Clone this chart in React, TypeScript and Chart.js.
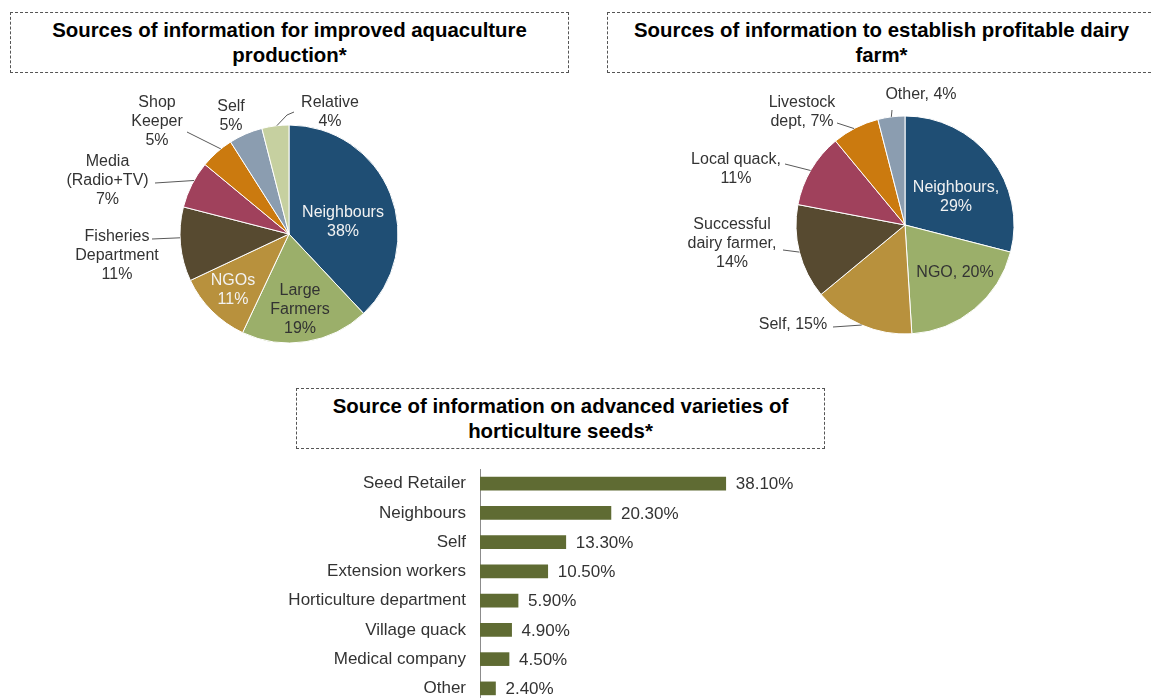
import React, { useEffect, useRef } from "react";
import { Chart, registerables } from "chart.js";

Chart.register(...registerables);

// ---------- DATA ----------
const aquaCategories = [
  "Neighbours",
  "Large\nFarmers",
  "NGOs",
  "Fisheries\nDepartment",
  "Media\n(Radio+TV)",
  "Shop\nKeeper",
  "Self",
  "Relative",
];
const aquaValues = [38, 19, 11, 11, 7, 5, 5, 4];

const dairyCategories = [
  "Neighbours",
  "NGO",
  "Self",
  "Successful\ndairy farmer",
  "Local quack",
  "Livestock\ndept",
  "Other",
];
const dairyValues = [29, 20, 15, 14, 11, 7, 4];

const seedCategories = [
  "Seed Retailer",
  "Neighbours",
  "Self",
  "Extension workers",
  "Horticulture department",
  "Village quack",
  "Medical company",
  "Other",
];
const seedValues = [38.1, 20.3, 13.3, 10.5, 5.9, 4.9, 4.5, 2.4];

// ---------- STYLE ----------
const FONT = '"Liberation Sans", Arial, sans-serif';
const TEXT = "#333333";
const LIGHT = "#f2f2f2";

const aquaColors = ["#1F4E74", "#9BAF6A", "#B8913D", "#574A30", "#A0415C", "#CB7A0F", "#8B9DB0", "#C6D0A0"];
const dairyColors = ["#1F4E74", "#9BAF6A", "#B8913D", "#574A30", "#A0415C", "#CB7A0F", "#8B9DB0"];
const barColor = "#5F6B33";

type LabelLayout = {
  dx: number;
  dy: number;
  color?: string;
  valueBreak?: boolean;
  leader?: number[][];
  end?: number;
};

// label placement relative to the pie centre
const aquaLabelLayout: LabelLayout[] = [
  { dx: 54, dy: -12, color: LIGHT, valueBreak: true },
  { dx: 11, dy: 75.5, valueBreak: true },
  { dx: -56, dy: 56, color: LIGHT, valueBreak: true },
  { dx: -172, dy: 22, valueBreak: true, leader: [[-137, 5]], end: 178 },
  { dx: -181.5, dy: -53.5, valueBreak: true, leader: [[-134, -51]], end: 209.4 },
  { dx: -132, dy: -112, valueBreak: true, leader: [[-102, -102]], end: 231.3 },
  { dx: -58, dy: -118, valueBreak: true },
  { dx: 41, dy: -121.5, valueBreak: true, leader: [[5, -122], [-2, -119]], end: 263.6 },
];

const dairyLabelLayout: LabelLayout[] = [
  { dx: 51, dy: -28, color: LIGHT, valueBreak: true },
  { dx: 50, dy: 48 },
  { dx: -112, dy: 100, leader: [[-72, 102]], end: 113.4 },
  { dx: -173, dy: 19, valueBreak: true, leader: [[-122, 25]], end: 165.6 },
  { dx: -169, dy: -55.5, valueBreak: true, leader: [[-120, -61]], end: 210 },
  { dx: -103, dy: -113.3, leader: [[-68, -102]], end: 242.2 },
  { dx: 16, dy: -130, leader: [[-13, -115]], end: 262.8 },
];

function aquaText(cat: string, v: number): string[] {
  return [...cat.split("\n"), `${v}%`];
}
function dairyText(cat: string, v: number, brk?: boolean): string[] {
  const lines = cat.split("\n");
  if (brk) {
    lines[lines.length - 1] += ",";
    lines.push(`${v}%`);
  } else {
    lines[lines.length - 1] += `, ${v}%`;
  }
  return lines;
}

function makePieLabelPlugin(texts: string[][], layout: LabelLayout[]) {
  return {
    id: "pieLabels",
    afterDatasetsDraw(chart: any) {
      const { ctx } = chart;
      const meta = chart.getDatasetMeta(0);
      meta.data.forEach((arc: any, i: number) => {
        const { x, y, outerRadius } = arc.getProps(["x", "y", "outerRadius"], true);
        const L = layout[i];
        ctx.save();
        if (L.leader) {
          ctx.strokeStyle = "#595959";
          ctx.lineWidth = 1;
          ctx.beginPath();
          L.leader.forEach(([px, py], k) => {
            if (k === 0) ctx.moveTo(x + px, y + py);
            else ctx.lineTo(x + px, y + py);
          });
          const a = ((L.end || 0) * Math.PI) / 180;
          ctx.lineTo(x + outerRadius * Math.cos(a), y + outerRadius * Math.sin(a));
          ctx.stroke();
        }
        ctx.font = `16px ${FONT}`;
        ctx.fillStyle = L.color || TEXT;
        ctx.textAlign = "center";
        ctx.textBaseline = "middle";
        const lines = texts[i];
        const lh = 19;
        lines.forEach((t, k) => {
          ctx.fillText(t, x + L.dx, y + L.dy + (k - (lines.length - 1) / 2) * lh);
        });
        ctx.restore();
      });
    },
  };
}

const barValuePlugin = {
  id: "barValues",
  afterDatasetsDraw(chart: any) {
    const { ctx } = chart;
    const meta = chart.getDatasetMeta(0);
    const data = chart.data.datasets[0].data as number[];
    ctx.save();
    ctx.font = `17px ${FONT}`;
    ctx.fillStyle = TEXT;
    ctx.textAlign = "left";
    ctx.textBaseline = "middle";
    meta.data.forEach((bar: any, i: number) => {
      const { x, y } = bar.getProps(["x", "y"], true);
      ctx.fillText(`${data[i].toFixed(2)}%`, x + 10, y + 1);
    });
    ctx.restore();
  },
};

function pieOptions(padding: any) {
  return {
    responsive: false,
    animation: false as const,
    layout: { padding },
    plugins: { legend: { display: false }, tooltip: { enabled: false } },
  };
}

const titleStyle = (left: number, top: number, width: number): React.CSSProperties => ({
  position: "absolute",
  left,
  top,
  width,
  height: 61,
  boxSizing: "border-box",
  border: "1px dashed #555",
  display: "flex",
  alignItems: "center",
  justifyContent: "center",
  textAlign: "center",
  fontFamily: FONT,
  fontWeight: "bold",
  fontSize: 20.4,
  lineHeight: "25px",
  color: "#000",
  whiteSpace: "nowrap",
});

export default function App() {
  const aquaRef = useRef<HTMLCanvasElement>(null);
  const dairyRef = useRef<HTMLCanvasElement>(null);
  const seedRef = useRef<HTMLCanvasElement>(null);

  useEffect(() => {
    const charts: Chart[] = [];

    charts.push(
      new Chart(aquaRef.current!, {
        type: "pie",
        data: {
          labels: aquaCategories,
          datasets: [
            {
              data: aquaValues,
              backgroundColor: aquaColors,
              borderColor: "#ffffff",
              borderWidth: 1,
            },
          ],
        },
        options: pieOptions({ left: 179.5, right: 179.5, top: 44.5, bottom: 36.5 }) as any,
        plugins: [
          makePieLabelPlugin(
            aquaCategories.map((c, i) => aquaText(c, aquaValues[i])),
            aquaLabelLayout
          ),
        ],
      })
    );

    charts.push(
      new Chart(dairyRef.current!, {
        type: "pie",
        data: {
          labels: dairyCategories,
          datasets: [
            {
              data: dairyValues,
              backgroundColor: dairyColors,
              borderColor: "#ffffff",
              borderWidth: 1,
            },
          ],
        },
        options: pieOptions({ left: 217.5, right: 136.5, top: 35.5, bottom: 45.5 }) as any,
        plugins: [
          makePieLabelPlugin(
            dairyCategories.map((c, i) => dairyText(c, dairyValues[i], dairyLabelLayout[i].valueBreak)),
            dairyLabelLayout
          ),
        ],
      })
    );

    charts.push(
      new Chart(seedRef.current!, {
        type: "bar",
        data: {
          labels: seedCategories,
          datasets: [
            {
              data: seedValues,
              backgroundColor: barColor,
              barThickness: 13,
            },
          ],
        },
        options: {
          responsive: false,
          animation: false,
          indexAxis: "y",
          layout: { padding: { top: 9, right: 80, bottom: 0, left: 0 } },
          plugins: { legend: { display: false }, tooltip: { enabled: false } },
          scales: {
            x: { display: false, min: 0, max: 40 },
            y: {
              afterFit: (s: any) => {
                s.width = 230;
                s.paddingTop = 0;
                s.paddingBottom = 0;
              },
              grid: { display: true, drawOnChartArea: false, drawTicks: false },
              border: { display: true, color: "#8c8c8c", width: 1 },
              ticks: {
                padding: 14,
                color: TEXT,
                font: { family: FONT, size: 17 },
              },
            },
          },
        } as any,
        plugins: [barValuePlugin],
      })
    );

    return () => charts.forEach((c) => c.destroy());
  }, []);

  return (
    <div
      style={{
        position: "fixed",
        left: 0,
        top: 0,
        width: 1151,
        height: 698,
        overflow: "hidden",
        background: "#fff",
      }}
    >
      <div style={titleStyle(10, 12, 559)}>
        <div>
          Sources of information for improved aquaculture
          <br />
          production*
        </div>
      </div>
      <div style={titleStyle(607, 12, 549)}>
        <div>
          Sources of information to establish profitable dairy
          <br />
          farm*
        </div>
      </div>
      <div style={titleStyle(296, 388, 529)}>
        <div>
          Source of information on advanced varieties of
          <br />
          horticulture seeds*
        </div>
      </div>
      <canvas
        ref={aquaRef}
        width={578}
        height={300}
        style={{ position: "absolute", left: 0, top: 80 }}
      />
      <canvas
        ref={dairyRef}
        width={573}
        height={300}
        style={{ position: "absolute", left: 578, top: 80 }}
      />
      <canvas
        ref={seedRef}
        width={568}
        height={243}
        style={{ position: "absolute", left: 250, top: 460 }}
      />
    </div>
  );
}
